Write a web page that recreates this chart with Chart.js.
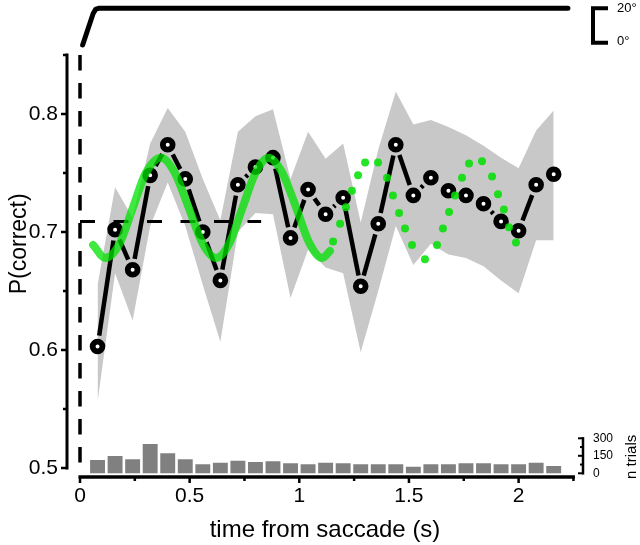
<!DOCTYPE html>
<html>
<head>
<meta charset="utf-8">
<script src="https://cdn.jsdelivr.net/npm/chart.js@4/dist/chart.umd.min.js"></script>
<style>
  html, body { margin: 0; padding: 0; background: #fff; }
  #wrap { width: 640px; height: 545px; }
</style>
</head>
<body>
<div id="wrap"><canvas id="chart" width="640" height="545"></canvas></div>
<script>
// time bins (s from saccade) and P(correct) per bin
const binTimes = [0.08, 0.16, 0.24, 0.32, 0.40, 0.48, 0.56, 0.64, 0.72, 0.80, 0.88, 0.96, 1.04, 1.12,
                  1.20, 1.28, 1.36, 1.44, 1.52, 1.60, 1.68, 1.76, 1.84, 1.92, 2.00, 2.08, 2.16];
const pCorrect = [0.603, 0.702, 0.668, 0.748, 0.774, 0.745, 0.700, 0.659, 0.740, 0.755, 0.763, 0.695, 0.736, 0.715,
                  0.729, 0.654, 0.707, 0.774, 0.731, 0.746, 0.735, 0.731, 0.724, 0.709, 0.701, 0.740, 0.749];
// shaded error band
const bandUpper = [0.655, 0.738, 0.712, 0.775, 0.805, 0.785, 0.745, 0.710, 0.785, 0.798, 0.804, 0.745, 0.785, 0.762,
                   0.775, 0.708, 0.770, 0.819, 0.791, 0.795, 0.789, 0.782, 0.773, 0.763, 0.754, 0.786, 0.803];
const bandLower = [0.556, 0.665, 0.625, 0.705, 0.742, 0.705, 0.655, 0.607, 0.700, 0.716, 0.715, 0.644, 0.685, 0.670,
                   0.665, 0.598, 0.650, 0.705, 0.672, 0.690, 0.681, 0.678, 0.671, 0.659, 0.648, 0.693, 0.693];
// number of trials per bin (histogram)
const nTrials = [114, 148, 120, 251, 171, 120, 77, 91, 108, 97, 103, 86, 77, 91,
                 86, 77, 77, 77, 57, 77, 77, 86, 86, 77, 77, 91, 63];

// fitted oscillation (solid green)
const fitTimes = [0.06, 0.115, 0.18, 0.24, 0.30, 0.37, 0.43, 0.495, 0.56, 0.62, 0.68, 0.74, 0.80, 0.86,
                  0.92, 0.985, 1.045, 1.105, 1.14];
const fitP = [0.689, 0.678, 0.690, 0.720, 0.750, 0.763, 0.751, 0.721, 0.690, 0.678, 0.690, 0.720, 0.750, 0.763,
              0.751, 0.721, 0.691, 0.678, 0.684];
// extrapolated oscillation (green dots)
const predTimes = [1.154, 1.186, 1.213, 1.240, 1.268, 1.300, 1.359, 1.400, 1.427, 1.455, 1.482, 1.514, 1.573,
                   1.628, 1.655, 1.683, 1.710, 1.742, 1.774, 1.833, 1.879, 1.906, 1.933, 1.956, 1.988];
const predP = [0.692, 0.707, 0.721, 0.735, 0.748, 0.759, 0.759, 0.746, 0.731, 0.716, 0.703, 0.689, 0.677,
               0.689, 0.703, 0.717, 0.731, 0.746, 0.758, 0.760, 0.747, 0.732, 0.719, 0.704, 0.691];

// eye position trace (deg)
const eyeTimes = [0.012, 0.060, 0.072, 0.085, 2.225];
const eyeDeg = [-1.3, 17, 19.5, 20, 20];

// reference lines
const baselineTimes = [0, 0.826];
const baselineP = [0.709, 0.709];
const onsetTimes = [0, 0];
const onsetP = [0.85, 0.497];

// ticks
const xTicks = [0, 0.5, 1, 1.5, 2];
const xMinorTicks = [0.25, 0.75, 1.25, 1.75, 2.25];
const yTicks = [0.5, 0.6, 0.7, 0.8];
const yMinorTicks = [0.55, 0.65, 0.75, 0.85];
const nTicks = [0, 150, 300];
const nMinorTicks = [75, 225];

const FONT = '"Liberation Sans", Arial, sans-serif';
Chart.defaults.font.family = FONT;
Chart.defaults.color = '#000';

const pts = (xs, ys) => xs.map((x, i) => ({ x: x, y: ys[i] }));

// fixed box sizes so the plot area lands where the original one is
const fixBox = (w, h) => s => {
  if (w !== null) s.width = w;
  if (h !== null) s.height = h;
  s.paddingTop = 0; s.paddingBottom = 0; s.paddingLeft = 0; s.paddingRight = 0;
};

// where two values of each axis sit on the page: [value1, pixel1, value2, pixel2]
const axisAnchors = {
  x: [0, 80, 2, 518.6],
  y: [0.5, 468, 0.8, 114],
  yHist: [0, 473.3, 300, 438.3],
  yEye: [0, 42.7, 20, 8.3]
};

// after layout, stretch each scale so that its anchors land on the right pixels
const calibratePlugin = {
  id: 'calibratePlugin',
  afterLayout(chart) {
    Object.keys(axisAnchors).forEach(id => {
      const s = chart.scales[id];
      const [v1, p1, v2, p2] = axisAnchors[id];
      const k = (v2 - v1) / (p2 - p1);
      if (s.isHorizontal()) {
        s.min = v1 + (s.left - p1) * k;
        s.max = v1 + (s.right - p1) * k;
      } else {
        s.min = v1 + (s.bottom - p1) * k;
        s.max = v1 + (s.top - p1) * k;
      }
      s.configure();
    });
  }
};

// axes are drawn by hand (offset style axes like the original figure)
const axesPlugin = {
  id: 'axesPlugin',
  afterDatasetsDraw(chart) {
    const { ctx, chartArea, scales } = chart;
    const sx = scales.x, sy = scales.y, sh = scales.yHist, se = scales.yEye;
    const seg = (x1, y1, x2, y2) => { ctx.beginPath(); ctx.moveTo(x1, y1); ctx.lineTo(x2, y2); ctx.stroke(); };
    ctx.save();
    ctx.strokeStyle = '#000';
    ctx.fillStyle = '#000';

    // left axis
    const ax = chartArea.left;
    ctx.lineWidth = 3;
    seg(ax, sy.getPixelForValue(0.5) + 1.5, ax, sy.getPixelForValue(0.85) - 1.5);
    ctx.lineWidth = 2.5;
    yTicks.forEach(v => seg(ax, sy.getPixelForValue(v), ax - 6, sy.getPixelForValue(v)));
    yMinorTicks.forEach(v => seg(ax, sy.getPixelForValue(v), ax - 4, sy.getPixelForValue(v)));

    // bottom axis
    const ay = chartArea.bottom;
    ctx.lineWidth = 3.5;
    seg(sx.getPixelForValue(0) - 1.5, ay, sx.getPixelForValue(2.25) + 1.5, ay);
    ctx.lineWidth = 2.5;
    xTicks.forEach(v => seg(sx.getPixelForValue(v), ay, sx.getPixelForValue(v), ay + 6));
    xMinorTicks.forEach(v => seg(sx.getPixelForValue(v), ay, sx.getPixelForValue(v), ay + 4));

    // histogram axis on the right
    const hx = chartArea.right;
    ctx.lineWidth = 2.5;
    seg(hx, sh.getPixelForValue(0) + 1.2, hx, sh.getPixelForValue(300) - 1.2);
    ctx.lineWidth = 2;
    nTicks.forEach(v => seg(hx, sh.getPixelForValue(v), hx - 5, sh.getPixelForValue(v)));
    nMinorTicks.forEach(v => seg(hx, sh.getPixelForValue(v), hx - 3, sh.getPixelForValue(v)));
    ctx.save();
    ctx.translate(632, (sh.getPixelForValue(0) + sh.getPixelForValue(300)) / 2 + 1);
    ctx.rotate(-Math.PI / 2);
    ctx.font = '15px ' + FONT;
    ctx.textAlign = 'center';
    ctx.textBaseline = 'middle';
    ctx.fillText('n trials', 0, 0);
    ctx.restore();

    // eye position scale bar
    const bx = chartArea.right + 10;
    const y0 = se.getPixelForValue(0), y20 = se.getPixelForValue(20);
    ctx.lineWidth = 4;
    ctx.beginPath();
    ctx.moveTo(bx + 15, y20);
    ctx.lineTo(bx, y20);
    ctx.lineTo(bx, y0);
    ctx.lineTo(bx + 15, y0);
    ctx.stroke();
    ctx.font = '13px ' + FONT;
    ctx.textAlign = 'left';
    ctx.textBaseline = 'middle';
    ctx.fillText('20°', bx + 24, y20);
    ctx.fillText('0°', bx + 24, y0 - 1);
    ctx.restore();
  }
};

const gap = 11; // gap between line and markers
new Chart(document.getElementById('chart'), {
  type: 'line',
  data: {
    datasets: [
      {
        data: pts(binTimes, bandLower), borderWidth: 0, pointRadius: 0, fill: false, order: 7
      },
      {
        data: pts(binTimes, bandUpper), borderWidth: 0, pointRadius: 0, fill: '-1',
        backgroundColor: '#c8c8c8', order: 6
      },
      {
        type: 'bar', data: pts(binTimes, nTrials), yAxisID: 'yHist', backgroundColor: '#808080',
        borderWidth: 0, barPercentage: 0.85, categoryPercentage: 1, order: 8
      },
      {
        data: pts(eyeTimes, eyeDeg), yAxisID: 'yEye', borderColor: '#000', borderWidth: 5,
        borderJoinStyle: 'round', borderCapStyle: 'round', pointRadius: 0, clip: false, order: 9
      },
      {
        data: pts(onsetTimes, onsetP), borderColor: '#000', borderWidth: 3.5, borderDash: [15.5, 12.5],
        pointRadius: 0, order: 5
      },
      {
        data: pts(baselineTimes, baselineP), borderColor: '#000', borderWidth: 3, borderDash: [15, 18.5],
        pointRadius: 0, order: 4
      },
      {
        data: pts(binTimes, pCorrect), borderColor: '#000', borderWidth: 4.5,
        pointRadius: 4.9, pointBorderWidth: 5.8, pointBackgroundColor: '#fff', pointBorderColor: '#000',
        segment: {
          borderDash: c => {
            const L = Math.hypot(c.p1.x - c.p0.x, c.p1.y - c.p0.y);
            return L > 2 * gap ? [0, gap, L - 2 * gap, 1000] : [0, 1000];
          }
        },
        order: 3
      },
      {
        data: pts(fitTimes, fitP), borderColor: 'rgba(0, 225, 0, 0.75)', borderWidth: 8,
        cubicInterpolationMode: 'monotone', borderCapStyle: 'round', borderJoinStyle: 'round',
        pointRadius: 0, order: 2
      },
      {
        data: pts(predTimes, predP), showLine: false, pointRadius: 4, pointBorderWidth: 0,
        pointBackgroundColor: 'rgba(0, 225, 0, 0.85)', order: 1
      }
    ]
  },
  options: {
    responsive: false,
    animation: false,
    events: [],
    layout: { padding: 0 },
    plugins: { legend: { display: false }, tooltip: { enabled: false } },
    scales: {
      x: {
        type: 'linear', min: -0.06, max: 2.29, bounds: 'data', offset: false,
        grid: { display: false, drawTicks: false, offset: false }, border: { display: false },
        ticks: { padding: 7, font: { size: 21 }, maxRotation: 0, autoSkip: false, callback: v => String(v) },
        afterBuildTicks: s => { s.ticks = xTicks.map(v => ({ value: v })); },
        afterFit: fixBox(null, 68),
        title: { display: true, text: 'time from saccade (s)', font: { size: 24 }, padding: { top: 0, bottom: 0 } }
      },
      y: {
        position: 'left', min: 0.49, max: 0.9, bounds: 'data',
        grid: { display: false, drawTicks: false }, border: { display: false },
        ticks: { padding: 9, font: { size: 21 }, autoSkip: false, callback: v => String(v) },
        afterBuildTicks: s => { s.ticks = yTicks.map(v => ({ value: v })); },
        afterFit: fixBox(67, null),
        title: { display: true, text: 'P(correct)', font: { size: 23 }, padding: { top: 6, bottom: 0 } }
      },
      yHist: {
        position: 'right', min: -30, max: 4000, bounds: 'data',
        grid: { display: false, drawTicks: false }, border: { display: false },
        ticks: { padding: 10, font: { size: 12 }, autoSkip: false, callback: v => String(v) },
        afterBuildTicks: s => { s.ticks = nTicks.map(v => ({ value: v })); },
        afterFit: fixBox(57, null)
      },
      yEye: { display: false, min: -250, max: 25 }
    }
  },
  plugins: [calibratePlugin, axesPlugin]
});
</script>
</body>
</html>
